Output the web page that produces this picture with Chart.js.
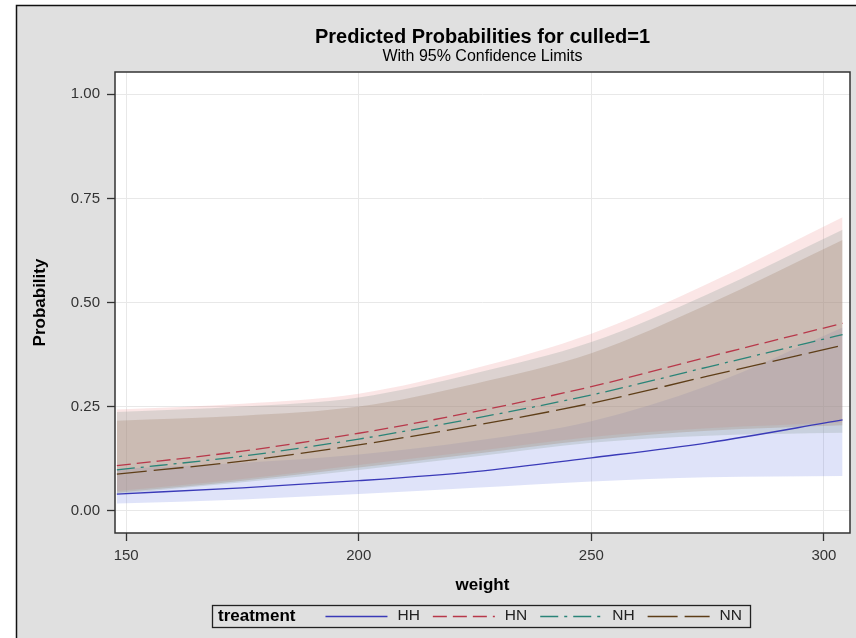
<!DOCTYPE html>
<html>
<head>
<meta charset="utf-8">
<script src="https://cdn.jsdelivr.net/npm/chart.js@4.4.1/dist/chart.umd.min.js"></script>
<style>
  html, body { margin: 0; padding: 0; background: #fff; }
  #wrap { width: 856px; height: 638px; }
</style>
</head>
<body>
<div id="wrap"><canvas id="myChart" width="856" height="638"></canvas></div>
<script>
// values
const weight = [148, 175, 200, 225, 250, 275, 304];
const xTicks = [150, 200, 250, 300];
const yTicks = [0, 0.25, 0.5, 0.75, 1];
const treatments = ['HH', 'HN', 'NH', 'NN'];

const hhPred  = [0.040, 0.055, 0.072, 0.094, 0.127, 0.163, 0.218];
const hhLower = [0.017, 0.027, 0.040, 0.055, 0.070, 0.080, 0.083];
const hhUpper = [0.100, 0.115, 0.135, 0.168, 0.215, 0.300, 0.440];

const hnPred  = [0.108, 0.143, 0.186, 0.238, 0.298, 0.369, 0.450];
const hnLower = [0.047, 0.076, 0.110, 0.143, 0.177, 0.198, 0.212];
const hnUpper = [0.243, 0.257, 0.281, 0.342, 0.425, 0.545, 0.705];

const nhPred  = [0.098, 0.131, 0.172, 0.222, 0.278, 0.345, 0.423];
const nhLower = [0.040, 0.068, 0.098, 0.130, 0.163, 0.180, 0.187];
const nhUpper = [0.237, 0.250, 0.272, 0.330, 0.405, 0.520, 0.675];

const nnPred  = [0.088, 0.119, 0.158, 0.205, 0.258, 0.323, 0.397];
const nnLower = [0.043, 0.072, 0.104, 0.137, 0.170, 0.192, 0.205];
const nnUpper = [0.216, 0.228, 0.250, 0.305, 0.378, 0.495, 0.650];

const FONT = "'Liberation Sans', Arial, sans-serif";

function pts(ys){
  return weight.map(function(w, i){ return {x: w, y: ys[i]}; });
}

function lineSet(label, ys, color, dash){
  return {
    label: label, data: pts(ys), borderColor: color, backgroundColor: color,
    borderWidth: 1.3, borderDash: dash, pointRadius: 0, fill: false,
    cubicInterpolationMode: 'monotone'
  };
}

function bandSet(label, ys, fillColor, fillTo){
  return {
    label: label, data: pts(ys), borderWidth: 0, borderColor: 'rgba(0,0,0,0)',
    backgroundColor: fillColor, pointRadius: 0, fill: fillTo,
    cubicInterpolationMode: 'monotone'
  };
}

const datasets = [
  lineSet('HH', hhPred, '#3a3ab8', []),
  lineSet('HN', hnPred, '#b8384a', [14, 6]),
  lineSet('NH', nhPred, '#2a8478', [18, 6, 3, 6]),
  lineSet('NN', nnPred, '#5e3e18', [30, 7]),
  // bands, the last ones are filled first
  bandSet('NN upper', nnUpper, 'rgba(150,120,90,0.25)', '+1'),
  bandSet('NN lower', nnLower, 'rgba(0,0,0,0)', false),
  bandSet('NH upper', nhUpper, 'rgba(150,165,160,0.3)', '+1'),
  bandSet('NH lower', nhLower, 'rgba(0,0,0,0)', false),
  bandSet('HN upper', hnUpper, 'rgba(235,130,130,0.2)', '+1'),
  bandSet('HN lower', hnLower, 'rgba(0,0,0,0)', false),
  bandSet('HH upper', hhUpper, 'rgba(80,100,220,0.18)', '+1'),
  bandSet('HH lower', hhLower, 'rgba(0,0,0,0)', false)
];

const panelPlugin = {
  id: 'panel',
  beforeDraw(chart){
    const ctx = chart.ctx, a = chart.chartArea;
    ctx.save();
    ctx.fillStyle = '#fff';
    ctx.fillRect(0, 0, chart.width, chart.height);
    ctx.fillStyle = '#e0e0e0';
    ctx.fillRect(16, 5, chart.width - 16, chart.height - 5);
    ctx.strokeStyle = '#111';
    ctx.lineWidth = 1.5;
    ctx.beginPath();
    ctx.moveTo(16.5, chart.height);
    ctx.lineTo(16.5, 5.5);
    ctx.lineTo(chart.width, 5.5);
    ctx.stroke();
    ctx.fillStyle = '#fff';
    ctx.fillRect(a.left, a.top, a.right - a.left, a.bottom - a.top);
    ctx.restore();
  },
  afterDraw(chart){
    const ctx = chart.ctx, a = chart.chartArea;
    const cx = (a.left + a.right) / 2;
    ctx.save();
    // plot frame
    ctx.strokeStyle = '#333';
    ctx.lineWidth = 1.5;
    ctx.strokeRect(a.left, a.top, a.right - a.left, a.bottom - a.top);

    // titles
    ctx.fillStyle = '#000';
    ctx.textAlign = 'center';
    ctx.textBaseline = 'middle';
    ctx.font = 'bold 20px ' + FONT;
    ctx.fillText('Predicted Probabilities for culled=1', cx, 37);
    ctx.font = '16px ' + FONT;
    ctx.fillText('With 95% Confidence Limits', cx, 57);

    // axis titles
    ctx.font = 'bold 17px ' + FONT;
    ctx.fillText('weight', cx, 585);
    ctx.save();
    ctx.translate(40, (a.top + a.bottom) / 2);
    ctx.rotate(-Math.PI / 2);
    ctx.fillText('Probability', 0, 0);
    ctx.restore();

    // legend
    const ly = 616, boxLeft = 212;
    ctx.textAlign = 'left';
    ctx.font = 'bold 17px ' + FONT;
    ctx.fillText('treatment', 218, ly);
    let x = 218 + ctx.measureText('treatment').width + 30;
    ctx.font = '15.5px ' + FONT;
    treatments.forEach(function(t, i){
      const ds = chart.data.datasets[i];
      ctx.strokeStyle = ds.borderColor;
      ctx.lineWidth = 1.3;
      ctx.setLineDash(ds.borderDash);
      ctx.beginPath();
      ctx.moveTo(x, ly + 0.5);
      ctx.lineTo(x + 62, ly + 0.5);
      ctx.stroke();
      ctx.setLineDash([]);
      x += 72;
      ctx.fillStyle = '#222';
      ctx.fillText(t, x, ly);
      x += ctx.measureText(t).width + (i < treatments.length - 1 ? 13 : 8);
    });
    ctx.strokeStyle = '#222';
    ctx.lineWidth = 1.3;
    ctx.strokeRect(boxLeft + 0.5, 605.5, x - boxLeft, 22);
    ctx.restore();
  }
};

new Chart(document.getElementById('myChart'), {
  type: 'line',
  data: { datasets: datasets },
  options: {
    responsive: false,
    animation: false,
    devicePixelRatio: 1,
    layout: { padding: { left: 16, top: 72, right: 6, bottom: 65 } },
    plugins: {
      legend: { display: false },
      tooltip: { enabled: false },
      filler: { drawTime: 'beforeDatasetsDraw', propagate: false }
    },
    scales: {
      x: {
        type: 'linear', min: 147.6, max: 305.6,
        afterFit: function(s){ s.height = 40; },
        afterBuildTicks: function(s){ s.ticks = xTicks.map(function(v){ return {value: v}; }); },
        grid: { color: '#e8e8e8', tickColor: '#333', tickLength: 8, tickWidth: 1.3 },
        border: { display: false },
        ticks: { font: { family: FONT, size: 15 }, color: '#333', padding: 6, maxRotation: 0 }
      },
      y: {
        min: -0.0536, max: 1.0536,
        afterFit: function(s){ s.width = 99; },
        afterBuildTicks: function(s){ s.ticks = yTicks.map(function(v){ return {value: v}; }); },
        grid: { color: '#e8e8e8', tickColor: '#333', tickLength: 8, tickWidth: 1.3 },
        border: { display: false },
        ticks: {
          font: { family: FONT, size: 15 }, color: '#333', padding: 7,
          callback: function(v){ return Number(v).toFixed(2); }
        }
      }
    }
  },
  plugins: [panelPlugin]
});
</script>
</body>
</html>
